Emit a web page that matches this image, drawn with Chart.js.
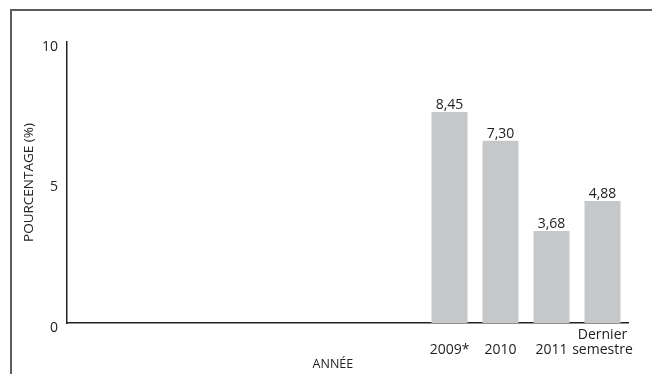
<!DOCTYPE html>
<html>
<head>
<meta charset="utf-8">
<script src="https://cdn.jsdelivr.net/npm/chart.js@4"></script>
<style>
html, body { margin: 0; padding: 0; background: #fff; }
#wrap { position: relative; width: 652px; height: 374px; }
#frame { position: absolute; left: 10px; top: 9px; right: 0; bottom: 0;
         border-top: 2px solid #5c5c5c; border-left: 2px solid #5c5c5c; pointer-events: none; }
</style>
</head>
<body>
<div id="wrap">
  <canvas id="chart" width="652" height="374"></canvas>
  <div id="frame"></div>
</div>
<script>
// empty category slots to the left of the bars
const emptySlots = 7;
const categories = ['2009*', '2010', '2011', ['Dernier', 'semestre']];
const values = [8.45, 7.30, 3.68, 4.88];
// the printed axis runs 0..10 but the bars are drawn against a taller range
const yTickLabels = [0, 5, 10];
const axisTopValue = 11.25;

const FONT = '"Open Sans", "Noto Sans", sans-serif';
const TEXT = '#222';

const labels = [];
const data = [];
for (let i = 0; i < emptySlots; i++) { labels.push(''); data.push(null); }
categories.forEach((c, i) => {
    labels.push(Array.isArray(c) ? c : ['', c]);
    data.push(values[i]);
});

const valueLabels = {
    id: 'valueLabels',
    afterDatasetsDraw(chart) {
        const ctx = chart.ctx;
        const meta = chart.getDatasetMeta(0);
        ctx.save();
        ctx.font = '14px ' + FONT;
        ctx.fillStyle = TEXT;
        ctx.textAlign = 'center';
        ctx.textBaseline = 'alphabetic';
        meta.data.forEach((bar, i) => {
            const v = chart.data.datasets[0].data[i];
            if (v == null) return;
            ctx.fillText(v.toFixed(2).replace('.', ','), bar.x, bar.y - 3);
        });
        ctx.restore();
    }
};

const ctx = document.getElementById('chart').getContext('2d');
new Chart(ctx, {
    type: 'bar',
    data: {
        labels: labels,
        datasets: [{
            data: data,
            backgroundColor: '#c6c7c9',
            categoryPercentage: 1,
            barPercentage: 0.706
        }]
    },
    options: {
        responsive: false,
        animation: false,
        layout: { padding: { left: 0, right: 24, top: 42, bottom: 0 } },
        plugins: {
            legend: { display: false },
            tooltip: { enabled: false }
        },
        scales: {
            x: {
                grid: { display: false, drawTicks: false },
                border: { color: '#222', width: 1.5 },
                ticks: {
                    color: TEXT,
                    font: { family: FONT, size: 14, lineHeight: 1.05 },
                    padding: 5,
                    maxRotation: 0,
                    autoSkip: false
                },
                title: {
                    display: true,
                    // trailing spaces pull the centred title a little left, as in the source
                    text: 'ANNÉE\u00a0\u00a0\u00a0\u00a0\u00a0\u00a0\u00a0\u00a0\u00a0',
                    color: TEXT,
                    font: { family: FONT, size: 12.5 },
                    padding: { top: 0, bottom: 2 }
                },
                afterFit: s => { s.height = 51; }
            },
            y: {
                min: 0,
                max: axisTopValue,
                grid: { display: false, drawTicks: false },
                border: { color: '#222', width: 1.5 },
                afterBuildTicks: s => {
                    s.ticks = yTickLabels.map(t => ({ value: t * axisTopValue / 10 }));
                },
                ticks: {
                    color: TEXT,
                    font: { family: FONT, size: 14 },
                    padding: 9,
                    labelOffset: 5,
                    callback: (v, i) => String(yTickLabels[i])
                },
                title: {
                    display: true,
                    text: 'POURCENTAGE (%)',
                    color: TEXT,
                    font: { family: FONT, size: 13.5 },
                    padding: { top: 21, bottom: 0 }
                },
                afterFit: s => { s.width = 67; }
            }
        }
    },
    plugins: [valueLabels]
});
</script>
</body>
</html>
